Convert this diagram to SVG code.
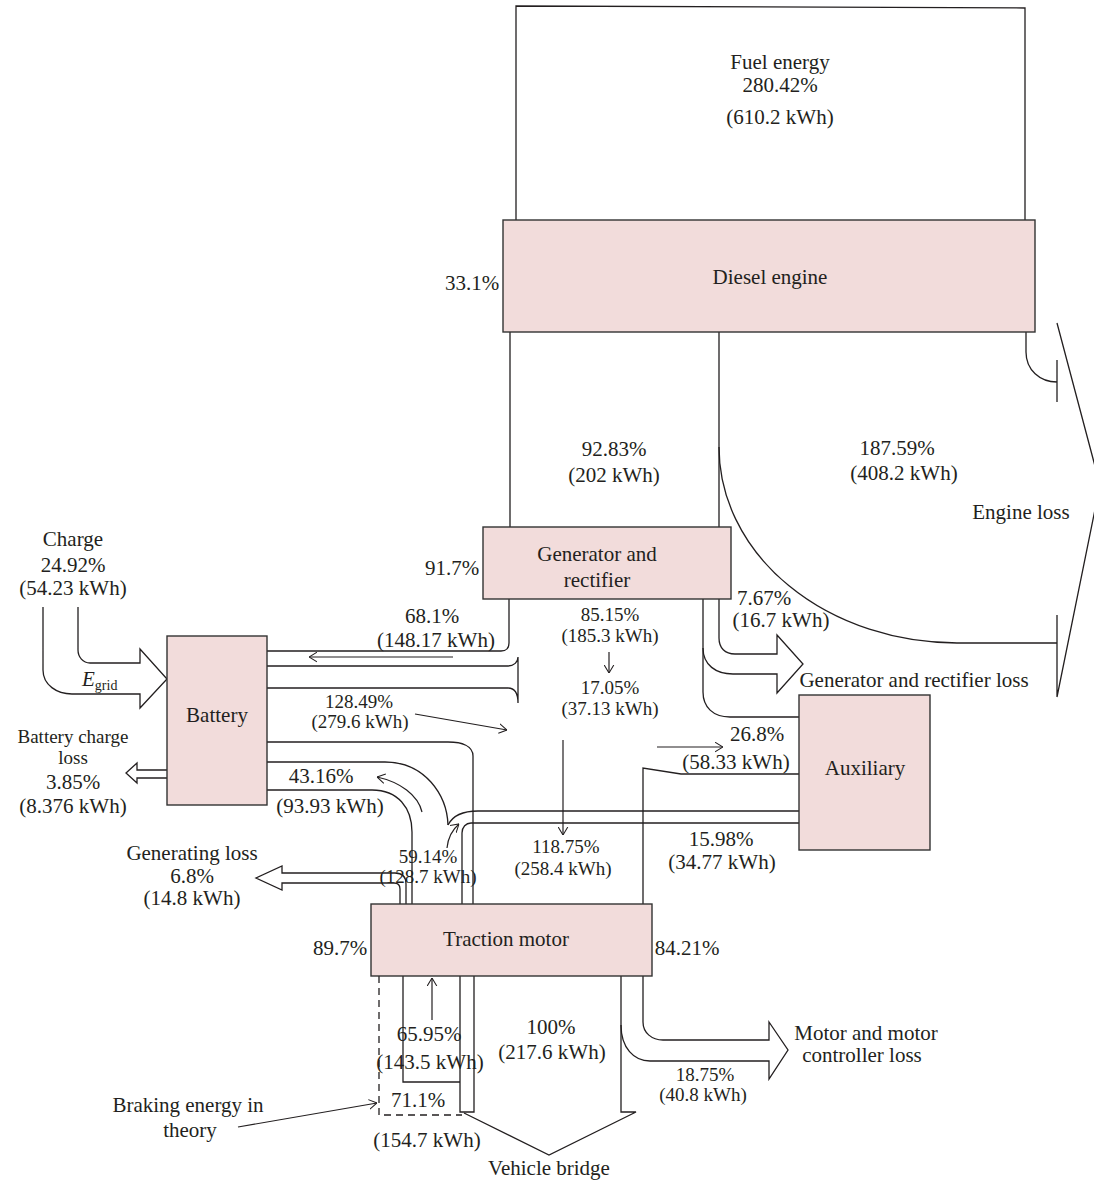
<svg xmlns="http://www.w3.org/2000/svg" width="1094" height="1181" viewBox="0 0 1094 1181">
<style>
text{font-family:"Liberation Serif","Times New Roman",serif;font-size:21px;fill:#231f20;text-anchor:middle}
text.st{text-anchor:start}
text.n{font-size:19px}
.box{fill:#f2dcdb;stroke:#333;stroke-width:1.4}
.ln{fill:none;stroke:#231f20;stroke-width:1.3}
.ar{fill:none;stroke:#231f20;stroke-width:1.2;marker-end:url(#chev)}
.dash{fill:none;stroke:#231f20;stroke-width:1.3;stroke-dasharray:7 5}
</style>
<defs>
<marker id="chev" viewBox="0 0 10 12" refX="10" refY="6" markerWidth="8" markerHeight="11" markerUnits="userSpaceOnUse" orient="auto">
<path d="M0,0 L10,6 L0,12" fill="none" stroke="#231f20" stroke-width="1.3"/>
</marker>
</defs>
<rect width="1094" height="1181" fill="#fff"/>

<g id="connectors">
<path class="ln" d="M516,220 V6 L1025,8 V220"/>
<path class="ln" d="M510,332 V527 M719,332 V527"/>
<path class="ln" d="M1026,332 V352 C1026,370 1040,382 1057,382 M1057,360 V402"/>
<path class="ln" d="M1057,323 L1100,485 L1057,697 M1057,615 V697"/>
<path class="ln" d="M719,447 A238,196 0 0 0 957,643 H1057"/>
<path class="ln" d="M509,599 V643 Q509,651 501,651 H267"/>
<path class="ar" d="M453,657 H309"/>
<path class="ln" d="M267,666 H508 C514,666 518,662 518,657 M267,688 H508 C514,688 518,692 518,703 M518,657 V703"/>
<path class="ar" d="M415,714 L507,730"/>
<path class="ln" d="M267,742 H448 C462,742 473,746 473,756 V904"/>
<path class="ln" d="M267,762 H385 C425,762 447,795 448,825"/>
<path class="ln" d="M267,790 H372 C398,790 412,808 412,832 V904"/>
<path class="ar" d="M422,812 C418,795 400,782 377,777"/>
<path class="ln" d="M799,811 H478 C462,811 452,817 448,825"/>
<path class="ln" d="M799,823 H471 C466,823 462,827 462,833 V904"/>
<path class="ar" d="M447,848 C448,838 452,830 459,824"/>
<path class="ln" d="M406,904 V884 C406,877 402,873 395,873 H282 V866 L256,878 L282,890 V883 H394 C398,883 400,885 400,889 V904"/>
<path class="ln" d="M167,770 H137 V763 L126,773 L137,783 V778 H167"/>
<path class="ln" d="M43,607 V670 C43,685 57,694 72,694 H140 V708 L167,679 L140,649 V663 H90 C83,663 78,657 78,650 V607"/>
<path class="ar" d="M609,652 V673"/>
<path class="ar" d="M563,740 V835"/>
<path class="ln" d="M719,599 V638 C719,648 725,654 735,654 H777 V635 L803,664 L777,693 V674 H733 C716,674 703,665 703,648"/>
<path class="ln" d="M703,599 V692 C703,707 713,717 730,717 H799"/>
<path class="ar" d="M657,747 H723"/>
<path class="ln" d="M799,774 H681 L643,768 V904"/>
<path class="dash" d="M379,976 V1115 H462"/>
<path class="ln" d="M403,976 V1082 H460"/>
<path class="ln" d="M460,976 V1112 H474 V976"/>
<path class="ar" d="M432,1020 V978"/>
<path class="ln" d="M621,976 V1112 H636 L549,1155 L464,1113"/>
<path class="ln" d="M643,976 V1022 C643,1033 652,1040 663,1040 H769 V1022 L788,1050 L769,1079 V1061 H650 C634,1061 621,1048 621,1025"/>
<path class="ar" d="M238,1127 L377,1103"/>
</g>

<g id="fuel-energy">
<text x="780" y="69">Fuel energy</text>
<text x="780" y="92">280.42%</text>
<text x="780" y="124">(610.2 kWh)</text>
</g>
<g id="diesel-engine">
<rect class="box" x="503" y="220" width="532" height="112"/>
<text x="770" y="284">Diesel engine</text>
<text x="472" y="290">33.1%</text>
</g>
<g id="generator">
<rect class="box" x="483" y="527" width="248" height="72"/>
<text x="597" y="561">Generator and</text>
<text x="597" y="587">rectifier</text>
<text x="452" y="575">91.7%</text>
</g>
<g id="battery">
<rect class="box" x="167" y="636" width="100" height="169"/>
<text x="217" y="722">Battery</text>
</g>
<g id="auxiliary">
<rect class="box" x="799" y="695" width="131" height="155"/>
<text x="865" y="775">Auxiliary</text>
</g>
<g id="traction-motor">
<rect class="box" x="371" y="904" width="281" height="72"/>
<text x="506" y="946">Traction motor</text>
<text x="340" y="955">89.7%</text>
<text x="687" y="955">84.21%</text>
</g>

<g id="labels">
<text x="614" y="456">92.83%</text>
<text x="614" y="482">(202 kWh)</text>
<text x="897" y="455">187.59%</text>
<text x="904" y="480">(408.2 kWh)</text>
<text x="1021" y="519">Engine loss</text>
<text x="73" y="546">Charge</text>
<text x="73" y="572">24.92%</text>
<text x="73" y="595">(54.23 kWh)</text>
<text class="st" x="82" y="686"><tspan font-style="italic">E</tspan><tspan font-size="14" dy="4">grid</tspan></text>
<text x="432" y="623">68.1%</text>
<text x="436" y="647">(148.17 kWh)</text>
<text class="n" x="610" y="621">85.15%</text>
<text class="n" x="610" y="642">(185.3 kWh)</text>
<text class="n" x="610" y="694">17.05%</text>
<text class="n" x="610" y="715">(37.13 kWh)</text>
<text x="764" y="605">7.67%</text>
<text x="781" y="627">(16.7 kWh)</text>
<text x="914" y="687">Generator and rectifier loss</text>
<text class="n" x="359" y="708">128.49%</text>
<text class="n" x="360" y="728">(279.6 kWh)</text>
<text x="757" y="741">26.8%</text>
<text x="736" y="769">(58.33 kWh)</text>
<text class="n" x="73" y="743">Battery charge</text>
<text class="n" x="73" y="764">loss</text>
<text x="73" y="789">3.85%</text>
<text x="73" y="813">(8.376 kWh)</text>
<text x="321" y="783">43.16%</text>
<text x="330" y="813">(93.93 kWh)</text>
<text x="192" y="860">Generating loss</text>
<text x="192" y="883">6.8%</text>
<text x="192" y="905">(14.8 kWh)</text>
<text class="n" x="428" y="863">59.14%</text>
<text class="n" x="428" y="883">(128.7 kWh)</text>
<text class="n" x="566" y="853">118.75%</text>
<text class="n" x="563" y="875">(258.4 kWh)</text>
<text x="721" y="846">15.98%</text>
<text x="722" y="869">(34.77 kWh)</text>
<text x="429" y="1041">65.95%</text>
<text x="430" y="1069">(143.5 kWh)</text>
<text x="551" y="1034">100%</text>
<text x="552" y="1059">(217.6 kWh)</text>
<text x="866" y="1040">Motor and motor</text>
<text x="862" y="1062">controller loss</text>
<text class="n" x="705" y="1081">18.75%</text>
<text class="n" x="703" y="1101">(40.8 kWh)</text>
<text x="188" y="1112">Braking energy in</text>
<text x="190" y="1137">theory</text>
<text x="418" y="1107">71.1%</text>
<text x="427" y="1147">(154.7 kWh)</text>
<text x="549" y="1175">Vehicle bridge</text>
</g>
</svg>
